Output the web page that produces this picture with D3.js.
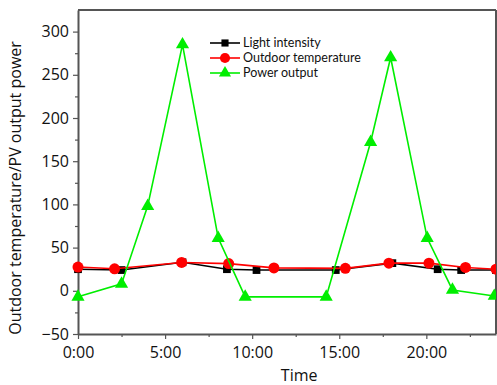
<!DOCTYPE html>
<html>
<head>
<meta charset="utf-8">
<script src="https://cdn.jsdelivr.net/npm/d3@7"></script>
<style>
  body { margin: 0; background: #fff; }
  svg { font-family: "Open Sans", sans-serif; }
</style>
</head>
<body>
<div id="chart"></div>
<script>
// Values (time in hours)
var lightTime = [0, 2.5, 6, 8.55, 10.25, 14.8, 18.05, 20.65, 22, 24];
var lightVal  = [25, 24, 33, 25, 24, 24, 32, 25, 24, 24];

var tempTime = [0, 2.1, 5.95, 8.65, 11.25, 15.35, 17.85, 20.15, 22.25, 24];
var tempVal  = [27.5, 25.5, 32.8, 31.5, 26.5, 26, 32, 32, 27, 25];

var powerTime = [0, 2.5, 4, 6, 8.05, 9.6, 14.25, 16.8, 17.95, 20.05, 21.5, 23.9];
var powerVal  = [-7, 8, 98, 285, 61, -7, -7, 172, 270, 61, 1, -6];

var xTicks = [0, 5, 10, 15, 20];
var xTickLabels = ["0:00", "5:00", "10:00", "15:00", "20:00"];
var yTicks = [-50, 0, 50, 100, 150, 200, 250, 300];

var seriesNames = ["Light intensity", "Outdoor temperature", "Power output"];

// Set the dimensions and margins of the graph
var margin = { top: 10, right: 1, bottom: 51, left: 78 },
    width = 497 - margin.left - margin.right,
    height = 385 - margin.top - margin.bottom;

var svg = d3.select("#chart")
  .append("svg")
    .attr("width", 497)
    .attr("height", 385)
  .append("g")
    .attr("transform", "translate(" + margin.left + "," + margin.top + ")");

var x = d3.scaleLinear().domain([0, 24]).range([0, width]);
var y = d3.scaleLinear().domain([-50, 325]).range([height, 0]);

var axisColor = "#555";

// Frame (top and right)
svg.append("line").attr("x1", 0).attr("x2", width).attr("y1", 0).attr("y2", 0)
  .attr("stroke", axisColor).attr("stroke-width", 2);
svg.append("line").attr("x1", width).attr("x2", width).attr("y1", 0).attr("y2", height)
  .attr("stroke", axisColor).attr("stroke-width", 2);

// Minor ticks
svg.append("g")
  .attr("transform", "translate(0," + height + ")")
  .call(d3.axisBottom(x).tickValues([2.5, 7.5, 12.5, 17.5, 22.5]).tickSize(3).tickFormat(""))
  .call(function(g) { g.select(".domain").remove(); })
  .selectAll("line").attr("stroke", axisColor).attr("stroke-width", 1.2);
svg.append("g")
  .call(d3.axisLeft(y).tickValues([-25, 25, 75, 125, 175, 225, 275]).tickSize(3).tickFormat(""))
  .call(function(g) { g.select(".domain").remove(); })
  .selectAll("line").attr("stroke", axisColor).attr("stroke-width", 1.2);

// X axis
var xAxis = svg.append("g")
  .attr("transform", "translate(0," + height + ")")
  .call(d3.axisBottom(x).tickValues(xTicks).tickSize(5).tickPadding(8)
    .tickFormat(function(d, i) { return xTickLabels[i]; }).tickSizeOuter(0));
// Y axis
var yAxis = svg.append("g")
  .call(d3.axisLeft(y).tickValues(yTicks).tickSize(5).tickPadding(4)
    .tickFormat(function(d) { return d < 0 ? "\u2212" + Math.abs(d) : d; }).tickSizeOuter(0));

[xAxis, yAxis].forEach(function(a) {
  a.select(".domain").attr("stroke", axisColor).attr("stroke-width", 2);
  a.selectAll(".tick line").attr("stroke", axisColor).attr("stroke-width", 1.2);
  a.selectAll(".tick text").attr("font-size", "16px").attr("fill", "#111")
    .attr("font-family", "Open Sans, sans-serif");
});

// Axis labels
svg.append("text")
  .attr("text-anchor", "middle")
  .attr("font-size", "16px")
  .attr("x", x(12.7))
  .attr("y", height + 47)
  .attr("fill", "#111")
  .text("Time");

svg.append("text")
  .attr("text-anchor", "middle")
  .attr("font-size", "16px")
  .attr("transform", "translate(" + (-57) + "," + (y(119)) + ") rotate(-90)")
  .attr("fill", "#111")
  .text("Outdoor temperature/PV output power");

// Series
var clip = svg.append("clipPath").attr("id", "clip")
  .append("rect").attr("x", -8).attr("y", -8).attr("width", width + 8).attr("height", height + 16);

function zip(t, v) { return t.map(function(d, i) { return [d, v[i]]; }); }

var line = d3.line().x(function(d) { return x(d[0]); }).y(function(d) { return y(d[1]); });

var series = [
  { data: zip(lightTime, lightVal), color: "#000000", symbol: d3.symbolSquare, size: 60 },
  { data: zip(tempTime, tempVal), color: "#ff0000", symbol: d3.symbolCircle, size: 95 },
  { data: zip(powerTime, powerVal), color: "#00ee00", symbol: d3.symbolTriangle, size: 75 }
];

var plot = svg.append("g").attr("clip-path", "url(#clip)");

series.forEach(function(s) {
  plot.append("path")
    .datum(s.data)
    .attr("fill", "none")
    .attr("stroke", s.color)
    .attr("stroke-width", 1.6)
    .attr("d", line);
  plot.selectAll(null)
    .data(s.data)
    .enter()
    .append("path")
      .attr("d", d3.symbol().type(s.symbol).size(s.size))
      .attr("transform", function(d) { return "translate(" + x(d[0]) + "," + y(d[1]) + ")"; })
      .attr("fill", s.color);
});

// Legend
var legend = svg.append("g").attr("transform", "translate(132,33)");
series.forEach(function(s, i) {
  var g = legend.append("g").attr("transform", "translate(0," + (i * 15) + ")");
  g.append("line").attr("x1", 0).attr("x2", 30).attr("stroke", s.color).attr("stroke-width", 1.6);
  g.append("path")
    .attr("d", d3.symbol().type(s.symbol).size(s.size * 0.85))
    .attr("transform", "translate(15,0)")
    .attr("fill", s.color);
  g.append("text")
    .attr("x", 33)
    .attr("y", 0)
    .attr("dy", "0.35em")
    .attr("font-size", "12.5px")
    .attr("font-family", "Lato, sans-serif")
    .attr("fill", "#111")
    .text(seriesNames[i]);
});
</script>
</body>
</html>
